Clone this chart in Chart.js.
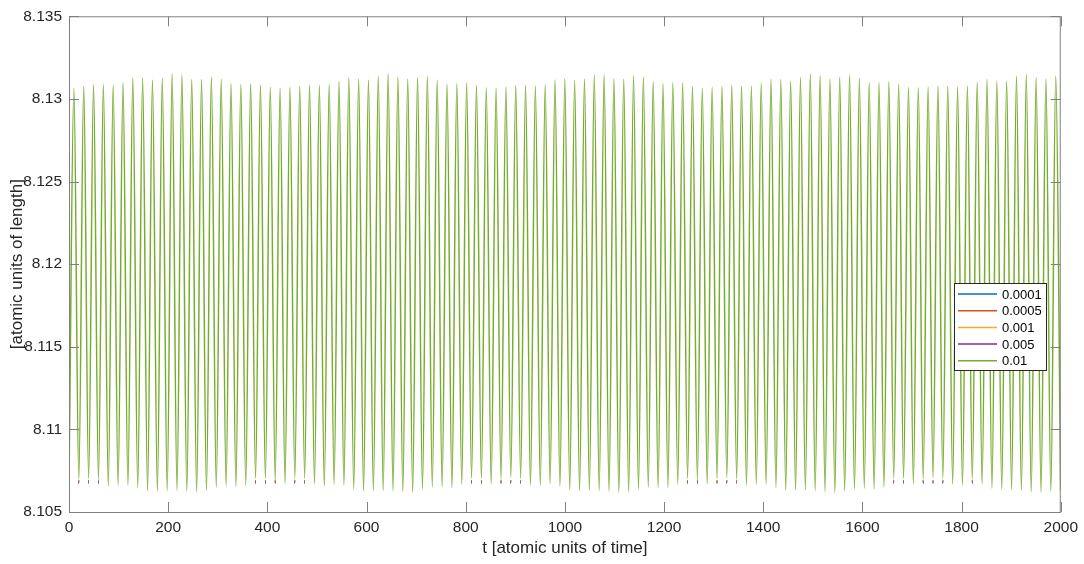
<!DOCTYPE html>
<html lang="en">
	<head>
		<meta charset="UTF-8" />
		<script src="https://cdn.jsdelivr.net/npm/chart.js@4"></script>
		<style>
			body { margin: 0; background: #fff; }
		</style>
	</head>

	<body>
		<canvas id="myChart" width="1084" height="564"></canvas>

		<script>
			// sample times of the extrema (trough, peak, trough, ...)
			const tTimes = [
				0, 9.9, 19.8, 29.7, 39.6, 49.5, 59.4, 69.3, 79.2, 89.1,
				99, 108.9, 118.8, 128.7, 138.6, 148.5, 158.4, 168.3, 178.2, 188.1,
				198, 207.9, 217.8, 227.7, 237.6, 247.5, 257.4, 267.3, 277.2, 287.1,
				297, 306.9, 316.8, 326.7, 336.6, 346.5, 356.4, 366.3, 376.2, 386.1,
				396, 405.9, 415.8, 425.7, 435.6, 445.5, 455.4, 465.3, 475.2, 485.1,
				495, 504.9, 514.8, 524.7, 534.6, 544.5, 554.4, 564.3, 574.2, 584.1,
				594, 603.9, 613.8, 623.7, 633.6, 643.5, 653.4, 663.3, 673.2, 683.1,
				693, 702.9, 712.8, 722.7, 732.6, 742.5, 752.4, 762.3, 772.2, 782.1,
				792, 801.9, 811.8, 821.7, 831.6, 841.5, 851.4, 861.3, 871.2, 881.1,
				891, 900.9, 910.8, 920.7, 930.6, 940.5, 950.4, 960.3, 970.2, 980.1,
				990, 999.9, 1009.8, 1019.7, 1029.6, 1039.5, 1049.4, 1059.3, 1069.2, 1079.1,
				1089, 1098.9, 1108.8, 1118.7, 1128.6, 1138.5, 1148.4, 1158.3, 1168.2, 1178.1,
				1188, 1197.9, 1207.8, 1217.7, 1227.6, 1237.5, 1247.4, 1257.3, 1267.2, 1277.1,
				1287, 1296.9, 1306.8, 1316.7, 1326.6, 1336.5, 1346.4, 1356.3, 1366.2, 1376.1,
				1386, 1395.9, 1405.8, 1415.7, 1425.6, 1435.5, 1445.4, 1455.3, 1465.2, 1475.1,
				1485, 1494.9, 1504.8, 1514.7, 1524.6, 1534.5, 1544.4, 1554.3, 1564.2, 1574.1,
				1584, 1593.9, 1603.8, 1613.7, 1623.6, 1633.5, 1643.4, 1653.3, 1663.2, 1673.1,
				1683, 1692.9, 1702.8, 1712.7, 1722.6, 1732.5, 1742.4, 1752.3, 1762.2, 1772.1,
				1782, 1791.9, 1801.8, 1811.7, 1821.6, 1831.5, 1841.4, 1851.3, 1861.2, 1871.1,
				1881, 1890.9, 1900.8, 1910.7, 1920.6, 1930.5, 1940.4, 1950.3, 1960.2, 1970.1,
				1980, 1989.9, 1999.8,
			];

			// maxima
			const peaks = [
				8.13066, 8.13076, 8.13088, 8.13088, 8.13082, 8.13098, 8.13126, 8.13128, 8.13114, 8.13126,
				8.13152, 8.13144, 8.13118, 8.13118, 8.13134, 8.1312, 8.13094, 8.13088, 8.13094, 8.13086,
				8.1307, 8.13066, 8.1307, 8.13078, 8.13086, 8.13082, 8.1309, 8.13108, 8.13128, 8.1312,
				8.13114, 8.13138, 8.13154, 8.13134, 8.1312, 8.1313, 8.13138, 8.13114, 8.1309, 8.13094,
				8.13096, 8.13082, 8.13068, 8.13066, 8.13072, 8.13082, 8.13084, 8.13078, 8.13088, 8.13116,
				8.13124, 8.13112, 8.1312, 8.13146, 8.13148, 8.13124, 8.1312, 8.1314, 8.13134, 8.13106,
				8.13094, 8.131, 8.13096, 8.13076, 8.13066, 8.1307, 8.13076, 8.13082, 8.13078, 8.13078,
				8.13096, 8.1312, 8.13118, 8.13108, 8.1313, 8.13152, 8.13142, 8.1312, 8.13132, 8.13144,
				8.13126, 8.131, 8.131, 8.13106, 8.1309, 8.1307, 8.13068, 8.13074, 8.13078, 8.13078,
				8.13074, 8.1308, 8.13102, 8.13118, 8.13108, 8.13108, 8.13138, 8.1315, 8.1313, 8.1312,
				8.1314,
			];

			// minima of the 0.01 curve
			const troughs = [
				8.1068, 8.10698, 8.10702, 8.10696, 8.10656, 8.1066, 8.10662, 8.10646, 8.10628, 8.10626,
				8.1063, 8.1063, 8.10626, 8.10622, 8.1063, 8.1065, 8.10658, 8.10654, 8.1066, 8.10702,
				8.10702, 8.1069, 8.10672, 8.10702, 8.10702, 8.1067, 8.10656, 8.10666, 8.10662, 8.10638,
				8.10626, 8.10628, 8.1063, 8.10628, 8.10622, 8.1062, 8.10636, 8.10652, 8.10652, 8.10646,
				8.10666, 8.10702, 8.10702, 8.1067, 8.10696, 8.10708, 8.10702, 8.1066, 8.10662, 8.1067,
				8.10656, 8.10632, 8.10628, 8.10632, 8.1063, 8.10624, 8.10618, 8.10622, 8.10638, 8.1065,
				8.10646, 8.10648, 8.1067, 8.10702, 8.10696, 8.1067, 8.10702, 8.10708, 8.10698, 8.1066,
				8.10666, 8.10668, 8.10648, 8.10632, 8.10632, 8.10634, 8.1063, 8.10622, 8.10616, 8.10626,
				8.10636, 8.10644, 8.1064, 8.1065, 8.10702, 8.10702, 8.1067, 8.10698, 8.10708, 8.10702,
				8.10668, 8.10662, 8.10698, 8.10668, 8.10644, 8.10636, 8.10638, 8.10632, 8.10622, 8.10618,
				8.10626, 8.10632,
			];

			// minima of the smaller step sizes (dip a little lower in places)
			const troughsFine = [
				8.1068, 8.10674, 8.10674, 8.10674, 8.10656, 8.1066, 8.10662, 8.10646, 8.10628, 8.10626,
				8.1063, 8.1063, 8.10626, 8.10622, 8.1063, 8.1065, 8.10658, 8.10654, 8.1066, 8.10674,
				8.10674, 8.10674, 8.10672, 8.10674, 8.10674, 8.1067, 8.10656, 8.10666, 8.10662, 8.10638,
				8.10626, 8.10628, 8.1063, 8.10628, 8.10622, 8.1062, 8.10636, 8.10652, 8.10652, 8.10646,
				8.10666, 8.10674, 8.10674, 8.1067, 8.10674, 8.10674, 8.10674, 8.1066, 8.10662, 8.1067,
				8.10656, 8.10632, 8.10628, 8.10632, 8.1063, 8.10624, 8.10618, 8.10622, 8.10638, 8.1065,
				8.10646, 8.10648, 8.1067, 8.10674, 8.10674, 8.1067, 8.10674, 8.10674, 8.10674, 8.1066,
				8.10666, 8.10668, 8.10648, 8.10632, 8.10632, 8.10634, 8.1063, 8.10622, 8.10616, 8.10626,
				8.10636, 8.10644, 8.1064, 8.1065, 8.10674, 8.10674, 8.1067, 8.10674, 8.10674, 8.10674,
				8.10668, 8.10662, 8.10674, 8.10668, 8.10644, 8.10636, 8.10638, 8.10632, 8.10622, 8.10618,
				8.10626, 8.10632,
			];

			const labels = ['0.0001', '0.0005', '0.001', '0.005', '0.01'];
			const colors = ['#0072BD', '#D95319', '#EDB120', '#7E2F8E', '#77AC30'];
			const xTicks = [0, 200, 400, 600, 800, 1000, 1200, 1400, 1600, 1800, 2000];
			const yTicks = [8.105, 8.11, 8.115, 8.12, 8.125, 8.13, 8.135];

			const axisColor = '#262626';
			const fontFamily = 'Arial, "Liberation Sans", Helvetica, sans-serif';
			const tipLevel = 8.1069; // finer curves only show below this

			// full curve: trough, peak, trough, ...
			function buildSeries(mins) {
				const pts = [];
				for (let k = 0; k < tTimes.length; k++) {
					const y = k % 2 === 0 ? mins[k / 2] : peaks[(k - 1) / 2];
					pts.push({ x: tTimes[k], y: y });
				}
				return pts;
			}

			// the finer curves lie under the 0.01 one; only keep the cycles where they differ
			function buildFine(mins) {
				const differs = (j) => j >= 0 && j < mins.length && mins[j] !== troughs[j];
				const pts = [];
				for (let k = 0; k < tTimes.length; k++) {
					let keep, y;
					if (k % 2 === 0) {
						keep = differs(k / 2);
						y = mins[k / 2];
					} else {
						const j = (k - 1) / 2;
						keep = differs(j) || differs(j + 1);
						y = peaks[j];
					}
					pts.push({ x: tTimes[k], y: keep ? y : null });
				}
				return pts;
			}

			const matlabAxes = {
				id: 'matlabAxes',
				beforeDraw(chart) {
					const ctx = chart.ctx;
					ctx.save();
					ctx.fillStyle = '#fff';
					ctx.fillRect(0, 0, chart.width, chart.height);
					ctx.restore();
				},
				beforeDatasetDraw(chart, args) {
					if (args.index === 4) return;
					const { ctx, chartArea: a, scales } = chart;
					const yTop = scales.y.getPixelForValue(tipLevel);
					ctx.save();
					ctx.beginPath();
					ctx.rect(a.left, yTop, a.right - a.left, a.bottom - yTop);
					ctx.clip();
				},
				afterDatasetDraw(chart, args) {
					if (args.index === 4) return;
					chart.ctx.restore();
				},
				afterDatasetsDraw(chart) {
					const { ctx, chartArea: a, scales } = chart;
					const tl = 10;
					ctx.save();
					ctx.strokeStyle = '#808080';
					ctx.lineWidth = 1;
					ctx.beginPath();
					ctx.rect(a.left + 0.5, a.top + 0.5, a.right - a.left - 1, a.bottom - a.top);
					xTicks.forEach((v) => {
						const px = Math.round(scales.x.getPixelForValue(v)) + 0.5;
						ctx.moveTo(px, a.bottom);
						ctx.lineTo(px, a.bottom - tl);
						ctx.moveTo(px, a.top);
						ctx.lineTo(px, a.top + tl);
					});
					yTicks.forEach((v) => {
						const py = Math.round(scales.y.getPixelForValue(v)) + 0.5;
						ctx.moveTo(a.left, py);
						ctx.lineTo(a.left + tl, py);
						ctx.moveTo(a.right, py);
						ctx.lineTo(a.right - tl, py);
					});
					ctx.stroke();

					// legend box
					const bx = 954, by = 283, bw = 92, bh = 87;
					ctx.fillStyle = '#fff';
					ctx.fillRect(bx, by, bw, bh);
					ctx.strokeStyle = axisColor;
					ctx.strokeRect(bx + 0.5, by + 0.5, bw, bh);
					ctx.font = '13px ' + fontFamily;
					ctx.textBaseline = 'middle';
					ctx.fillStyle = '#000';
					chart.data.datasets.forEach((ds, i) => {
						const ry = by + 11 + i * 16.7;
						ctx.strokeStyle = ds.borderColor;
						ctx.lineWidth = 1.5;
						ctx.beginPath();
						ctx.moveTo(bx + 4, ry);
						ctx.lineTo(bx + 43, ry);
						ctx.stroke();
						ctx.fillText(ds.label, bx + 48, ry + 1);
					});
					ctx.restore();
				},
			};

			window.addEventListener('load', setup);
			function setup() {
				const ctx = document.getElementById('myChart').getContext('2d');
				const datasets = labels.map((lab, i) => ({
					label: lab,
					data: i === 4 ? buildSeries(troughs) : buildFine(troughsFine),
					borderColor: colors[i],
					backgroundColor: colors[i],
					borderWidth: 1.5,
					pointRadius: 0,
					fill: false,
					spanGaps: false,
					cubicInterpolationMode: 'monotone',
					order: 5 - i,
				}));
				new Chart(ctx, {
					type: 'line',
					data: { datasets: datasets },
					options: {
						responsive: false,
						animation: false,
						events: [],
						layout: { padding: { top: 11, right: 22, left: 0, bottom: 0 } },
						plugins: { legend: { display: false }, tooltip: { enabled: false } },
						scales: {
							x: {
								type: 'linear',
								min: 0,
								max: 2000,
								afterFit: (s) => { s.height = 52; },
								afterBuildTicks: (s) => { s.ticks = xTicks.map((v) => ({ value: v })); },
								grid: { display: false, drawTicks: false, tickLength: 0 },
								border: { display: false },
								ticks: {
									padding: 6,
									color: axisColor,
									font: { family: fontFamily, size: 15.5 },
									maxRotation: 0,
									callback: (v) => String(v),
								},
								title: {
									display: true,
									text: 't [atomic units of time]',
									color: axisColor,
									font: { family: fontFamily, size: 17 },
									padding: { top: 0, bottom: 5 },
								},
							},
							y: {
								type: 'linear',
								min: 8.105,
								max: 8.135,
								afterFit: (s) => { s.width = 69; },
								afterBuildTicks: (s) => { s.ticks = yTicks.map((v) => ({ value: v })); },
								grid: { display: false, drawTicks: false, tickLength: 0 },
								border: { display: false },
								ticks: {
									padding: 7,
									color: axisColor,
									font: { family: fontFamily, size: 15.5 },
									callback: (v) => String(+v.toFixed(3)),
								},
								title: {
									display: true,
									text: '[atomic units of length]',
									color: axisColor,
									font: { family: fontFamily, size: 17 },
									padding: { top: 7, bottom: 0 },
								},
							},
						},
					},
					plugins: [matlabAxes],
				});
			}
		</script>
	</body>
</html>
